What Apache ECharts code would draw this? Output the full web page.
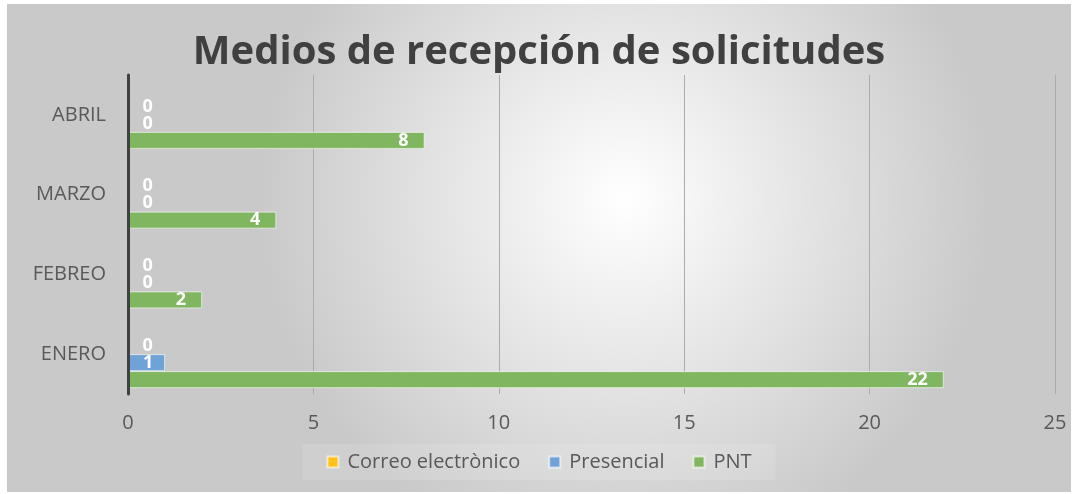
<!DOCTYPE html>
<html>
<head>
<meta charset="utf-8">
<script src="https://cdn.jsdelivr.net/npm/echarts@6/dist/echarts.min.js"></script>
<style>
  html, body { margin: 0; padding: 0; background: #fff; }
  #chart { position: absolute; left: 7px; top: 4px; width: 1064px; height: 488px; }
</style>
</head>
<body>
<div id="chart"></div>
<script>
const categories = ['ENERO', 'FEBREO', 'MARZO', 'ABRIL']
const correo = [0, 0, 0, 0]
const presencial = [1, 0, 0, 0]
const pnt = [22, 2, 4, 8]
const legendNames = ['Correo electrònico', 'Presencial', 'PNT']

const chart = echarts.init(document.getElementById('chart'))

const font = '"Open Sans", "Liberation Sans", sans-serif'
const txt = '#595959'

function valueLabel(position, distance) {
  return {
    show: true,
    position,
    distance,
    color: '#fff',
    fontWeight: 'bold',
    fontSize: 18,
    fontFamily: font,
  }
}

chart.setOption({
  backgroundColor: new echarts.graphic.RadialGradient(0.58, 0.4, 0.75, [
    { offset: 0, color: '#ffffff' },
    { offset: 1, color: '#c9c9c9' },
  ]),
  title: {
    text: 'Medios de recepción de solicitudes',
    left: 'center',
    top: 24,
    textStyle: { color: '#404040', fontSize: 40, fontWeight: 'bold', fontFamily: font },
  },
  legend: {
    data: legendNames,
    bottom: 12,
    left: 'center',
    itemWidth: 11,
    itemHeight: 11,
    itemGap: 28,
    icon: 'rect',
    textStyle: { color: txt, fontSize: 20, fontFamily: font, padding: [0, 0, 0, 4] },
    backgroundColor: 'rgba(255,255,255,0.12)',
    padding: [8, 24],
  },
  grid: { left: 121, right: 16, top: 71, bottom: 98 },
  xAxis: {
    type: 'value',
    min: 0,
    max: 25,
    interval: 5,
    axisLine: { show: false },
    axisTick: { show: false },
    splitLine: { lineStyle: { color: '#ababab', width: 1 } },
    axisLabel: { color: txt, fontSize: 20, fontFamily: font, margin: 19 },
  },
  yAxis: {
    type: 'category',
    data: categories,
    z: 5,
    axisLine: { lineStyle: { color: '#404040', width: 3 } },
    axisTick: { show: false },
    axisLabel: { color: txt, fontSize: 20, fontFamily: font, margin: 22 },
  },
  series: [
    // empty slot so the group sits low in each band, like the original
    { name: 'spacer', type: 'bar', data: [], barWidth: 17, barGap: '0%' },
    {
      name: 'Correo electrònico', type: 'bar', data: correo, barWidth: 17, barGap: '0%',
      itemStyle: { color: '#ffc21a', borderColor: 'rgba(255,255,255,0.6)', borderWidth: 1 },
      label: valueLabel('insideLeft', 15),
    },
    {
      name: 'Presencial', type: 'bar', data: presencial, barWidth: 17, barGap: '0%',
      itemStyle: { color: '#6fa3d8', borderColor: 'rgba(255,255,255,0.6)', borderWidth: 1 },
      label: valueLabel('insideLeft', 15),
    },
    {
      name: 'PNT', type: 'bar', data: pnt, barWidth: 17, barGap: '0%',
      itemStyle: { color: '#7fb65f', borderColor: 'rgba(255,255,255,0.6)', borderWidth: 1 },
      label: valueLabel('insideRight', 16),
    },
  ],
  animation: false,
})
</script>
</body>
</html>
